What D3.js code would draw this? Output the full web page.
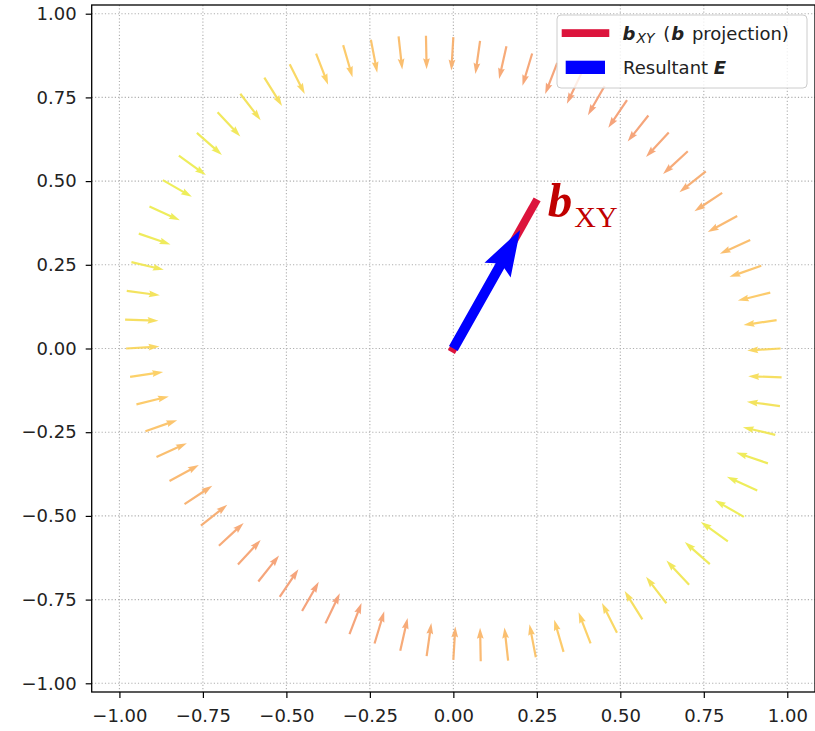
<!DOCTYPE html>
<html>
<head>
<meta charset="utf-8">
<script src="https://cdn.jsdelivr.net/npm/d3@7"></script>
<style>
body { margin: 0; background: #fff; }
</style>
</head>
<body>
<div id="canvas"></div>
<script>
"use strict"

let svgWidth = 815;
let svgHeight = 731;

/* Field arrows on the ring: tail positions, vectors, colour value (0 = yellow, 1 = salmon) */
let tailX = [0.980, 0.968, 0.949, 0.922, 0.889, 0.850, 0.805, 0.756, 0.702, 0.645, 0.584, 0.520,
             0.453, 0.383, 0.311, 0.236, 0.159, 0.080, 0.000, -0.082, -0.164, -0.247, -0.330, -0.411,
             -0.490, -0.566, -0.638, -0.706, -0.768, -0.822, -0.870, -0.910, -0.942, -0.964, -0.978, -0.983,
             -0.980, -0.968, -0.949, -0.922, -0.889, -0.850, -0.805, -0.756, -0.702, -0.645, -0.584, -0.520,
             -0.453, -0.383, -0.311, -0.236, -0.159, -0.080, 0.000, 0.082, 0.164, 0.247, 0.330, 0.411,
             0.490, 0.566, 0.638, 0.706, 0.768, 0.822, 0.870, 0.910, 0.942, 0.964, 0.978, 0.983];
let tailY = [0.000, 0.085, 0.167, 0.247, 0.324, 0.396, 0.465, 0.529, 0.589, 0.645, 0.696, 0.742,
             0.784, 0.821, 0.853, 0.881, 0.903, 0.919, 0.930, 0.934, 0.932, 0.922, 0.906, 0.881,
             0.849, 0.809, 0.761, 0.706, 0.644, 0.576, 0.503, 0.424, 0.343, 0.258, 0.172, 0.086,
             0.000, -0.085, -0.167, -0.247, -0.324, -0.396, -0.465, -0.529, -0.589, -0.645, -0.696, -0.742,
             -0.784, -0.821, -0.853, -0.881, -0.903, -0.919, -0.930, -0.934, -0.932, -0.922, -0.906, -0.881,
             -0.849, -0.809, -0.761, -0.706, -0.644, -0.576, -0.503, -0.424, -0.343, -0.258, -0.172, -0.086];
let vecU = [-0.100, -0.099, -0.097, -0.095, -0.091, -0.088, -0.083, -0.079, -0.074, -0.068, -0.062, -0.056,
            -0.050, -0.043, -0.036, -0.029, -0.022, -0.014, -0.006, 0.002, 0.011, 0.019, 0.028, 0.036,
            0.045, 0.053, 0.061, 0.068, 0.075, 0.081, 0.087, 0.091, 0.095, 0.097, 0.099, 0.100,
            0.100, 0.099, 0.097, 0.095, 0.091, 0.088, 0.083, 0.079, 0.074, 0.068, 0.062, 0.056,
            0.050, 0.043, 0.036, 0.029, 0.022, 0.014, 0.006, -0.002, -0.011, -0.019, -0.028, -0.036,
            -0.045, -0.053, -0.061, -0.068, -0.075, -0.081, -0.087, -0.091, -0.095, -0.097, -0.099, -0.100];
let vecV = [-0.006, -0.015, -0.024, -0.033, -0.041, -0.048, -0.055, -0.062, -0.068, -0.073, -0.078, -0.083,
            -0.087, -0.090, -0.093, -0.096, -0.098, -0.099, -0.100, -0.100, -0.099, -0.098, -0.096, -0.093,
            -0.089, -0.085, -0.079, -0.073, -0.066, -0.058, -0.050, -0.041, -0.032, -0.023, -0.013, -0.003,
            0.006, 0.015, 0.024, 0.033, 0.041, 0.048, 0.055, 0.062, 0.068, 0.073, 0.078, 0.083,
            0.087, 0.090, 0.093, 0.096, 0.098, 0.099, 0.100, 0.100, 0.099, 0.098, 0.096, 0.093,
            0.089, 0.085, 0.079, 0.073, 0.066, 0.058, 0.050, 0.041, 0.032, 0.023, 0.013, 0.003];
let colorVal = [0.25, 0.33, 0.41, 0.50, 0.59, 0.67, 0.75, 0.82, 0.88, 0.93, 0.97, 0.99,
                1.00, 0.99, 0.97, 0.93, 0.88, 0.82, 0.75, 0.67, 0.59, 0.50, 0.41, 0.33,
                0.25, 0.18, 0.12, 0.07, 0.03, 0.01, 0.00, 0.01, 0.03, 0.07, 0.12, 0.18,
                0.25, 0.33, 0.41, 0.50, 0.59, 0.67, 0.75, 0.82, 0.88, 0.93, 0.97, 0.99,
                1.00, 0.99, 0.97, 0.93, 0.88, 0.82, 0.75, 0.67, 0.59, 0.50, 0.41, 0.33,
                0.25, 0.18, 0.12, 0.07, 0.03, 0.01, 0.00, 0.01, 0.03, 0.07, 0.12, 0.18];

/* b projection and resultant E (from the origin) */
let bProj = [0.245, 0.435];
let resultantE = [0.200, 0.354];

let tickValues = [-1.00, -0.75, -0.50, -0.25, 0.00, 0.25, 0.50, 0.75, 1.00];

let dataset = tailX.map((x, i) => ({x: x, y: tailY[i], u: vecU[i], v: vecV[i], c: colorVal[i]}));

/* Drawing canvas */
let svg = d3.select("#canvas")
    .append("svg")
    .attr("width", svgWidth)
    .attr("height", svgHeight)
    .style("font-family", "'DejaVu Sans', sans-serif");

svg.append("rect")
    .attr("width", svgWidth)
    .attr("height", svgHeight)
    .attr("fill", "white");

/* Scales */
let xScale = d3.scaleLinear()
    .domain([-1.083, 1.083])
    .range([91.7, 815]);

let yScale = d3.scaleLinear()
    .domain([-1.026, 1.026])
    .range([692, 5]);

let colorScale = d3.scaleLinear()
    .domain([0, 0.35, 1])
    .range(["#ecec48", "#fdca5a", "#f4996e"]);

/* Grid */
let grid = svg.append("g");
tickValues.forEach(function(t){
    grid.append("line")
        .attr("x1", xScale(t)).attr("x2", xScale(t))
        .attr("y1", yScale.range()[1]).attr("y2", yScale.range()[0])
        .attr("stroke", "#b0b0b0").attr("stroke-width", 1.1)
        .attr("stroke-dasharray", "1.2,2.1");
    grid.append("line")
        .attr("x1", xScale.range()[0]).attr("x2", xScale.range()[1])
        .attr("y1", yScale(t)).attr("y2", yScale(t))
        .attr("stroke", "#b0b0b0").attr("stroke-width", 1.1)
        .attr("stroke-dasharray", "1.2,2.1");
});

/* quiver style arrow polygon in pixel space */
function arrowPath(x0, y0, x1, y1, w, headW, headL, headAL) {
    let dx = x1 - x0, dy = y1 - y0;
    let L = Math.hypot(dx, dy);
    let ux = dx / L, uy = dy / L;
    let px = -uy, py = ux;
    let pt = (a, b) => [x0 + ux * a + px * b, y0 + uy * a + py * b];
    let pts = [
        pt(0, w / 2), pt(L - headAL, w / 2), pt(L - headL, headW / 2), pt(L, 0),
        pt(L - headL, -headW / 2), pt(L - headAL, -w / 2), pt(0, -w / 2)
    ];
    return "M" + pts.map(p => p[0].toFixed(2) + "," + p[1].toFixed(2)).join("L") + "Z";
}

/* Ring of field arrows */
svg.selectAll("path.field")
    .data(dataset)
    .join("path")
    .attr("class", "field")
    .attr("d", d => arrowPath(xScale(d.x), yScale(d.y), xScale(d.x + d.u), yScale(d.y + d.v), 2.2, 6.8, 11, 9.9))
    .attr("fill", d => colorScale(d.c))
    .attr("opacity", 0.9);

/* b projection line */
svg.append("line")
    .attr("x1", xScale(0)).attr("y1", yScale(0))
    .attr("x2", xScale(bProj[0])).attr("y2", yScale(bProj[1]))
    .attr("stroke", "crimson")
    .attr("stroke-width", 8)
    .attr("stroke-linecap", "square");

/* Resultant E arrow */
svg.append("path")
    .attr("d", arrowPath(xScale(0), yScale(0), xScale(resultantE[0]), yScale(resultantE[1]), 10, 30, 46, 41))
    .attr("fill", "blue");

/* b_XY annotation */
let note = svg.append("text")
    .attr("x", xScale(0.283))
    .attr("y", yScale(0.392))
    .attr("fill", "#c00000")
    .style("font-family", "'Liberation Serif', 'DejaVu Serif', serif");
note.append("tspan")
    .attr("font-size", 49).attr("font-weight", "bold").attr("font-style", "italic")
    .text("b");
note.append("tspan")
    .attr("font-size", 30).attr("dy", 10).attr("dx", 2)
    .text("XY");

/* Spines */
svg.append("rect")
    .attr("x", xScale.range()[0])
    .attr("y", yScale.range()[1])
    .attr("width", xScale.range()[1] - xScale.range()[0])
    .attr("height", yScale.range()[0] - yScale.range()[1])
    .attr("fill", "none")
    .attr("stroke", "black")
    .attr("stroke-width", 1.3);

/* Axes */
let fmt = d3.format(".2f");

let xAxis = svg.append("g")
    .attr("transform", "translate(0," + yScale.range()[0] + ")")
    .call(d3.axisBottom(xScale).tickValues(tickValues).tickFormat(fmt).tickSize(6).tickPadding(11));

let yAxis = svg.append("g")
    .attr("transform", "translate(" + xScale.range()[0] + ",0)")
    .call(d3.axisLeft(yScale).tickValues(tickValues).tickFormat(fmt).tickSize(6).tickPadding(9));

[xAxis, yAxis].forEach(function(ax){
    ax.select(".domain").remove();
    ax.selectAll(".tick line").attr("stroke", "black").attr("stroke-width", 1.2);
    ax.selectAll(".tick text")
        .attr("fill", "#222")
        .style("font-family", "'DejaVu Sans', sans-serif")
        .style("font-size", "18px");
});

/* Legend */
let legend = svg.append("g");

legend.append("rect")
    .attr("x", 557).attr("y", 15)
    .attr("width", 250).attr("height", 73)
    .attr("rx", 4)
    .attr("fill", "white").attr("fill-opacity", 0.8)
    .attr("stroke", "#cccccc");

legend.append("rect")
    .attr("x", 561.7).attr("y", 29.2)
    .attr("width", 47.6).attr("height", 7.8)
    .attr("fill", "crimson");

legend.append("rect")
    .attr("x", 565.7).attr("y", 60.7)
    .attr("width", 39.3).attr("height", 13.3)
    .attr("fill", "blue");

let l1 = legend.append("text")
    .attr("x", 622.5).attr("y", 40)
    .attr("fill", "#222")
    .style("font-size", "18px");
l1.append("tspan").attr("font-weight", "bold").attr("font-style", "italic").text("b");
l1.append("tspan").attr("font-style", "italic").attr("font-size", 14).attr("dy", 3).attr("dx", 1).text("XY");
l1.append("tspan").attr("dy", -3).attr("dx", 3).text(" (");
l1.append("tspan").attr("font-weight", "bold").attr("font-style", "italic").attr("dx", 1).text("b");
l1.append("tspan").attr("dx", 2).text(" projection)");

let l2 = legend.append("text")
    .attr("x", 623).attr("y", 73.5)
    .attr("fill", "#222")
    .style("font-size", "18px");
l2.append("tspan").text("Resultant ");
l2.append("tspan").attr("font-weight", "bold").attr("font-style", "italic").text("E");
</script>
</body>
</html>
